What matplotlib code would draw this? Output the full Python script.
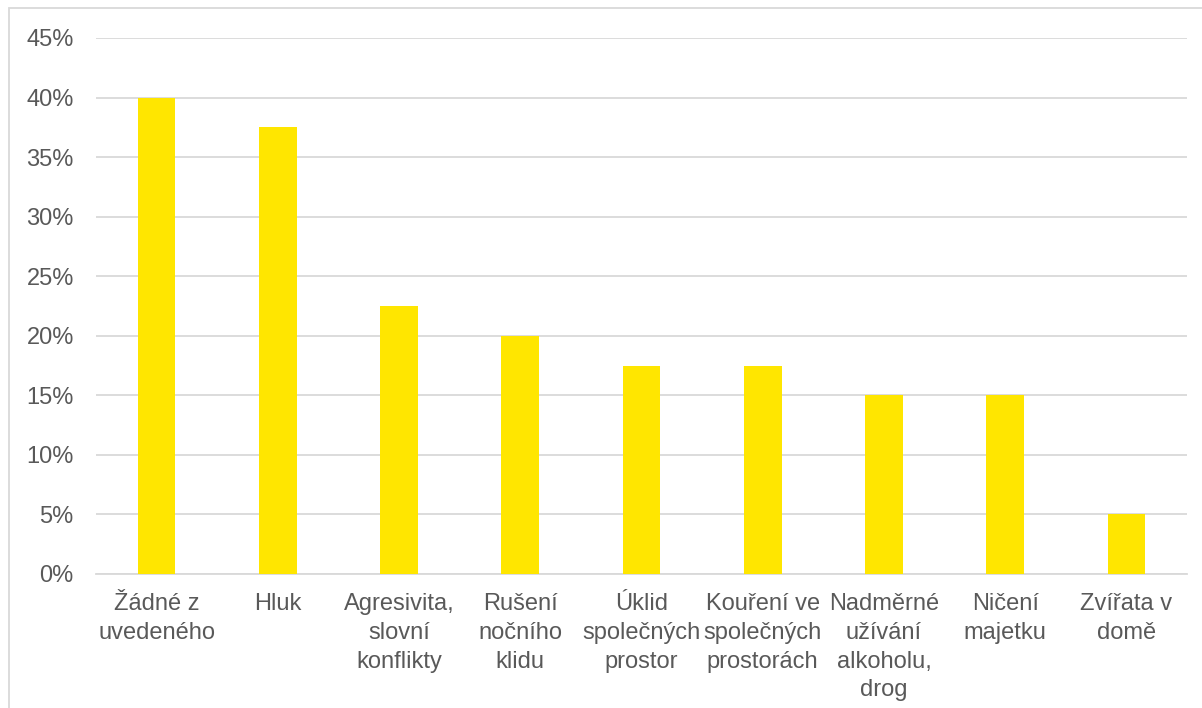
import matplotlib.pyplot as plt
from matplotlib.patches import Rectangle
from matplotlib.ticker import FuncFormatter

# data
kategorie = ['Žádné z\nuvedeného', 'Hluk', 'Agresivita,\nslovní\nkonflikty',
             'Rušení\nnočního\nklidu', 'Úklid\nspolečných\nprostor',
             'Kouření ve\nspolečných\nprostorách', 'Nadměrné\nužívání\nalkoholu,\ndrog',
             'Ničení\nmajetku', 'Zvířata v\ndomě']
podil = [40, 37.5, 22.5, 20, 17.5, 17.5, 15, 15, 5]

plt.rcParams['font.family'] = ['Liberation Sans', 'DejaVu Sans']
text_color = '#595959'
grid_color = '#d9d9d9'

fig = plt.figure(figsize=(12.02, 7.08), dpi=100)
ax = fig.add_axes([96 / 1202, 1 - 574 / 708, (1187 - 96) / 1202, (574 - 38) / 708])

# ramecek grafu (pravy a spodni okraj jsou oriznute)
fig.patches.append(Rectangle((9 / 1202, -0.1), 1.2, 1.1 - 8.5 / 708, transform=fig.transFigure,
                             fill=False, edgecolor=grid_color, linewidth=1.3))

x = range(len(kategorie))
ax.bar(x, podil, width=0.31, color='#ffe600', zorder=3)

ax.set_xlim(-0.5, len(kategorie) - 0.5)
ax.set_ylim(0, 45)
ax.set_yticks(range(0, 46, 5))
ax.yaxis.set_major_formatter(FuncFormatter(lambda v, p: f'{v:.0f}%'))
ax.set_xticks(list(x))
ax.set_xticklabels(kategorie, linespacing=1.39)

ax.grid(axis='y', color=grid_color, linewidth=1.3, zorder=0)
for s in ['top', 'right', 'left']:
    ax.spines[s].set_visible(False)
ax.spines['bottom'].set_color(grid_color)
ax.spines['bottom'].set_linewidth(1.3)
ax.tick_params(axis='both', length=0, labelsize=17, labelcolor=text_color)
ax.tick_params(axis='y', pad=16)
ax.tick_params(axis='x', pad=14)

fig.savefig('out.png', dpi=100)
